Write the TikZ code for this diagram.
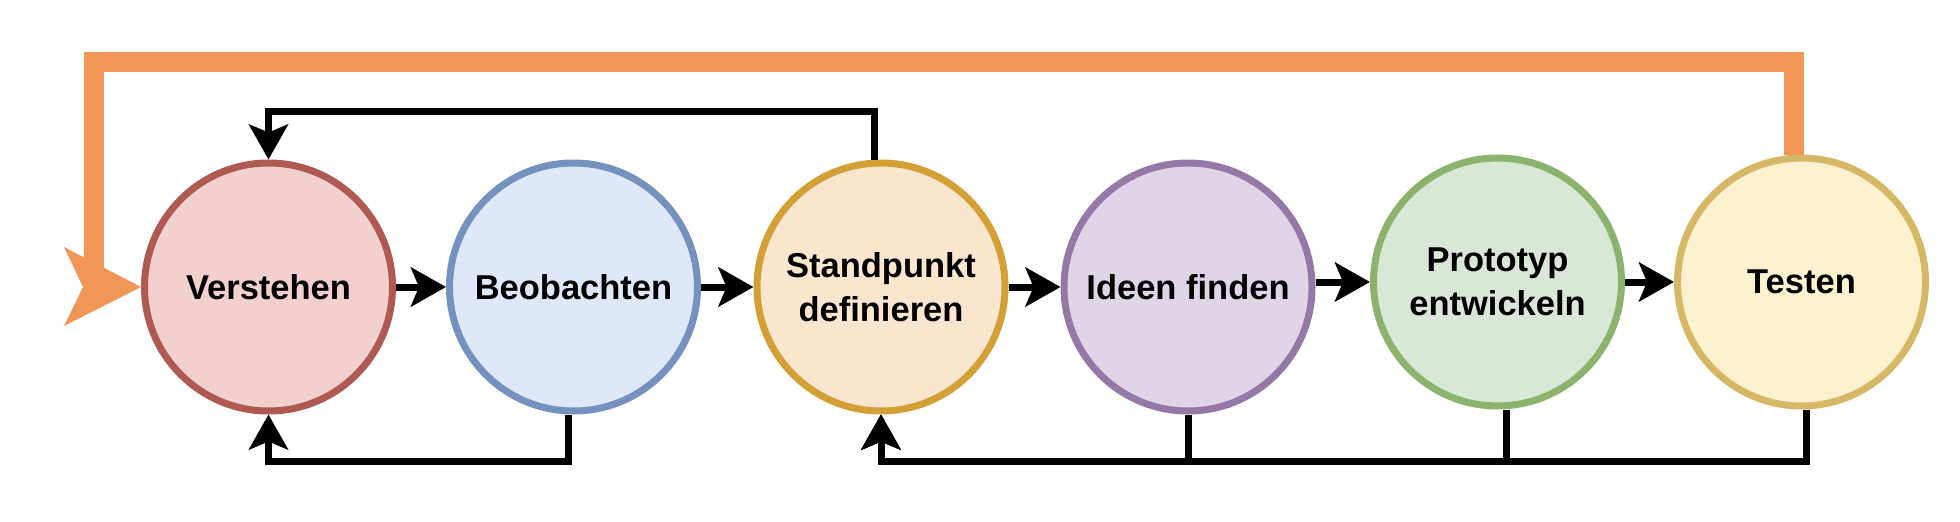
\documentclass[tikz,border=0pt]{standalone}
\usepackage{fontspec}
\setmainfont{Liberation Sans}
\usetikzlibrary{arrows.meta}
\definecolor{vFill}{HTML}{F1D0CD}\definecolor{vLine}{HTML}{AE5A53}
\definecolor{bFill}{HTML}{DEE8F8}\definecolor{bLine}{HTML}{7591BE}
\definecolor{sFill}{HTML}{FAE6CE}\definecolor{sLine}{HTML}{D3A035}
\definecolor{iFill}{HTML}{E0D5E7}\definecolor{iLine}{HTML}{9479A6}
\definecolor{pFill}{HTML}{D9E7D6}\definecolor{pLine}{HTML}{8CB36E}
\definecolor{tFill}{HTML}{FCF2CF}\definecolor{tLine}{HTML}{D5B865}
\definecolor{loopOrange}{HTML}{F09657}
\tikzset{
  phase/.style={circle, minimum size=248pt, inner sep=0pt, line width=7pt,
    font=\fontsize{34.5pt}{43.5pt}\selectfont\bfseries, align=center, text=black},
  arr/.style={line width=7pt, draw=black, line join=miter,
    -{Stealth[length=35pt,width=39pt,inset=8pt]}},
  oline/.style={line width=20pt, draw=loopOrange, line join=miter},
  ohead/.style={fill=loopOrange, draw=none}
}
\begin{document}
\begin{tikzpicture}[x=1pt,y=-1pt]
\path[use as bounding box] (0,0) rectangle (1960,522);
\node[phase, draw=vLine, fill=vFill] (V) at (268.5,287) {Verstehen};
\node[phase, draw=bLine, fill=bFill] (B) at (573.5,287) {Beobachten};
\node[phase, draw=sLine, fill=sFill] (S) at (881,287) {Standpunkt\\definieren};
\node[phase, draw=iLine, fill=iFill] (I) at (1188,287) {Ideen finden};
\node[phase, draw=pLine, fill=pFill] (P) at (1497.5,282) {Prototyp\\entwickeln};
\node[phase, draw=tLine, fill=tFill] (T) at (1801.5,282) {Testen};
\coordinate (topY) at (0,111.5);
\coordinate (botY) at (0,461.5);
\coordinate (oTop) at (0,62);
\coordinate (oLeft) at (94,287);
% straight arrows
\draw[arr] (V) -- (B);
\draw[arr] (B) -- (S);
\draw[arr] (S) -- (I);
\draw[arr] (P.west -| I.east) -- (P.west);
\draw[arr] (P) -- (T);
% loops back
\draw[arr] ([xshift=-7pt]S.north) |- (topY -| V.north) -- (V.north);
\draw[arr] ([xshift=-5pt]B.south) |- (botY -| V.south) -- (V.south);
\draw[arr] (I.south) |- (botY -| S.south) -- (S.south);
\draw[arr] ([xshift=8.5pt]P.south) |- (botY -| S.south) -- (S.south);
\draw[arr] ([xshift=4.5pt]T.south) |- (botY -| S.south) -- (S.south);
% orange loop
\draw[oline] ([xshift=-7.5pt]T.north) |- (oTop -| oLeft) -- (oLeft);
\path[ohead] (V.west) -- ++(-77,-40) -- ++(19,40) -- ++(-19,39) -- cycle;
\end{tikzpicture}
\end{document}
